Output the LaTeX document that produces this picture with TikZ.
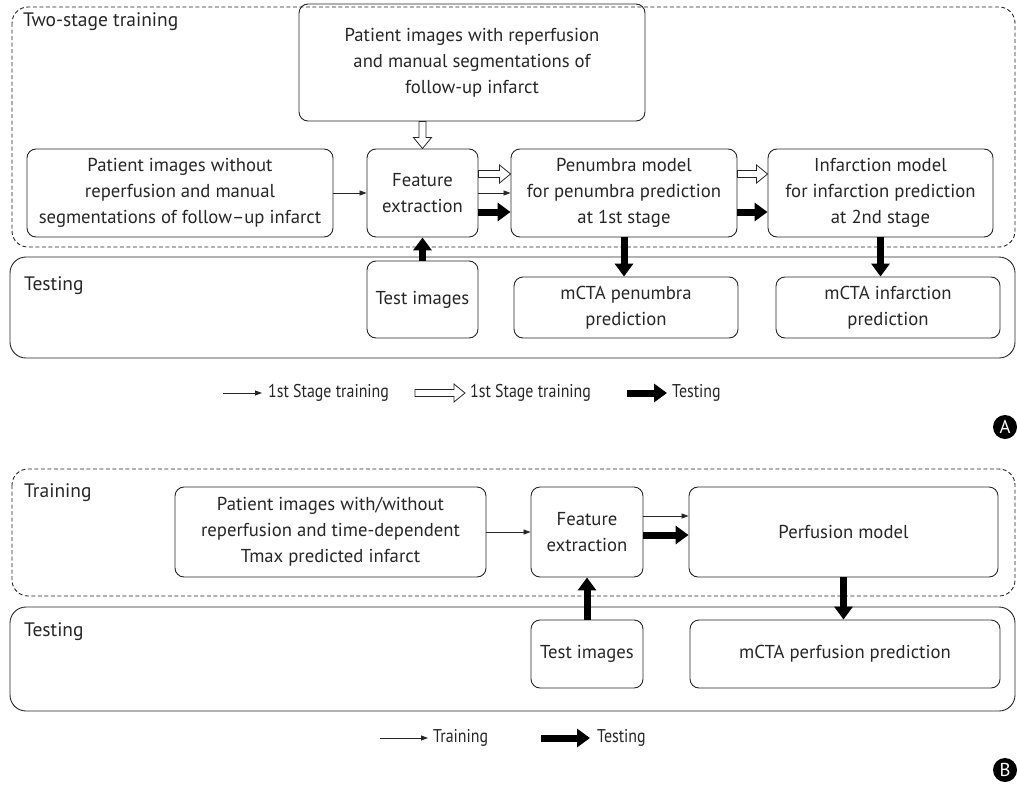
\documentclass[tikz,border=0pt]{standalone}
\usepackage{fontspec}
\setmainfont{PT Sans}
\newfontfamily\keyfamily{PT Sans}[FakeStretch=0.86]
\usetikzlibrary{arrows.meta,calc}

\definecolor{inkgray}{HTML}{262626}
\newcommand\boxfont{\fontsize{18.7}{26}\selectfont}
\newcommand\keyfont{\keyfamily\fontsize{18.5}{22}\selectfont}

\begin{document}
\begin{tikzpicture}[x=1pt,y=-1pt,
    every node/.style={text=inkgray,font=\boxfont},
    box/.style={draw=inkgray,rounded corners=9pt,line width=0.9pt,align=center,inner sep=0pt},
    frame/.style={draw=inkgray,rounded corners=16pt,line width=0.9pt},
    dframe/.style={frame,dashed,dash pattern=on 4pt off 2.5pt},
    thin/.style={draw=inkgray,line width=0.8pt,-{Triangle[length=7pt,width=5pt]}},
    thick/.style={draw=black,line width=7pt,-{Triangle[length=13pt,width=18pt]}},
    hollowr/.style={draw=inkgray,fill=white,line width=0.8pt,to path={let \p1=(\tikztostart),\p2=(\tikztotarget) in
        (\x1,{\y1+3.5pt}) -- ({\x2-11pt},{\y1+3.5pt}) -- ({\x2-11pt},{\y1+9pt}) -- (\x2,\y1)
        -- ({\x2-11pt},{\y1-9pt}) -- ({\x2-11pt},{\y1-3.5pt}) -- (\x1,{\y1-3.5pt}) -- cycle}},
    hollowd/.style={draw=inkgray,fill=white,line width=0.8pt,to path={let \p1=(\tikztostart),\p2=(\tikztotarget) in
        ({\x1-3.5pt},\y1) -- ({\x1-3.5pt},{\y2+11pt}) -- ({\x1-9pt},{\y2+11pt}) -- (\x1,\y2)
        -- ({\x1+9pt},{\y2+11pt}) -- ({\x1+3.5pt},{\y2+11pt}) -- ({\x1+3.5pt},\y1) -- cycle}},
    label/.style={anchor=west,inner sep=0pt,font=\fontsize{19.5}{24}\selectfont},
    key/.style={anchor=west,inner sep=0pt,font=\keyfont},
    marker/.style={circle,fill=black,text=white,minimum size=24pt,inner sep=0pt}]
    \useasboundingbox (0,0) rectangle (1017,787);

    % panel A
    \draw[dframe] (12,7) rectangle (1015,247);
    \draw[frame] (10,257) rectangle (1015,358);
    \node[label] (trainA) at (23,22) {Two-stage training};
    \node[label] (testA) at (24,286) {Testing};

    \node[box,minimum width=346pt,minimum height=117pt] (withR) at (472,62.5) {Patient images with reperfusion\\and manual segmentations of\\follow-up infarct};
    \node[box,minimum width=306pt,minimum height=88pt] (withoutR) at (180,193) {Patient images without\\reperfusion and manual\\segmentations of follow--up infarct};
    \node[box,minimum width=111pt,minimum height=88pt] (featA) at (422.5,193) {Feature\\extraction};
    \node[box,minimum width=226pt,minimum height=88pt] (penA) at (624,193) {Penumbra model\\for penumbra prediction\\at 1st stage};
    \node[box,minimum width=225pt,minimum height=88pt] (infA) at (880.5,193) {Infarction model\\for infarction prediction\\at 2nd stage};
    \node[box,minimum width=111pt,minimum height=77pt] (imgA) at (422.5,299.5) {Test images};
    \node[box,minimum width=224pt,minimum height=61pt] (mpenA) at (626,307.5) {mCTA penumbra\\prediction};
    \node[box,minimum width=224pt,minimum height=61pt] (minfA) at (888,307.5) {mCTA infarction\\prediction};

    \draw[hollowd] (featA.north |- withR.south) to (featA.north);
    \draw[thin] (withoutR.east) -- (featA.west);
    \draw[hollowr] ([yshift=19pt]featA.east) to ([yshift=19pt]penA.west);
    \draw[thin] (featA.east) -- (penA.west);
    \draw[thick] ([yshift=-19pt]featA.east) -- ([yshift=-19pt]penA.west);
    \draw[hollowr] ([yshift=19pt]penA.east) to ([yshift=19pt]infA.west);
    \draw[thick] ([yshift=-19pt]penA.east) -- ([yshift=-19pt]infA.west);
    \draw[thick] (imgA.north) -- (featA.south);
    \draw[thick] (penA.south) -- (penA.south |- mpenA.north);
    \draw[thick] (infA.south) -- (infA.south |- minfA.north);

    \coordinate (lgA1) at (223,393);
    \coordinate (lgA2) at (262,393);
    \coordinate (lgA3) at (415,393);
    \coordinate (lgA4) at (465,393);
    \coordinate (lgA5) at (627,393);
    \coordinate (lgA6) at (667,393);
    \draw[thin] (lgA1) -- (lgA2);
    \draw[hollowr] (lgA3) to (lgA4);
    \draw[thick] (lgA5) -- (lgA6);
    \node[key] (lgAt1) at (268,393) {1st Stage training};
    \node[key] (lgAt2) at (470,393) {1st Stage training};
    \node[key] (lgAt3) at (672,393) {Testing};
    \node[marker] (markA) at (1005,427) {A};

    % panel B
    \draw[dframe] (12,469) rectangle (1015,596);
    \draw[frame] (10,607) rectangle (1015,711);
    \node[label] (trainB) at (24,493) {Training};
    \node[label] (testB) at (24,632) {Testing};

    \node[box,minimum width=311pt,minimum height=90pt] (patB) at (330.5,532) {Patient images with/without\\reperfusion and time-dependent\\Tmax predicted infarct};
    \node[box,minimum width=112pt,minimum height=90pt] (featB) at (587,532) {Feature\\extraction};
    \node[box,minimum width=309pt,minimum height=90pt] (perfB) at (843.5,532) {Perfusion model};
    \node[box,minimum width=112pt,minimum height=68pt] (imgB) at (587,654) {Test images};
    \node[box,minimum width=310pt,minimum height=68pt] (mperfB) at (845,654) {mCTA perfusion prediction};

    \draw[thin] (patB.east) -- (featB.west);
    \draw[thin] ([yshift=16pt]featB.east) -- ([yshift=16pt]perfB.west);
    \draw[thick] ([yshift=-3pt]featB.east) -- ([yshift=-3pt]perfB.west);
    \draw[thick] (imgB.north) -- (featB.south);
    \draw[thick] (perfB.south) -- (perfB.south |- mperfB.north);

    \coordinate (lgB1) at (380,738);
    \coordinate (lgB2) at (428,738);
    \coordinate (lgB3) at (541,738);
    \coordinate (lgB4) at (590,738);
    \draw[thin] (lgB1) -- (lgB2);
    \draw[thick] (lgB3) -- (lgB4);
    \node[key] (lgBt1) at (433,738) {Training};
    \node[key] (lgBt2) at (597,738) {Testing};
    \node[marker] (markB) at (1005,770) {B};
\end{tikzpicture}
\end{document}
